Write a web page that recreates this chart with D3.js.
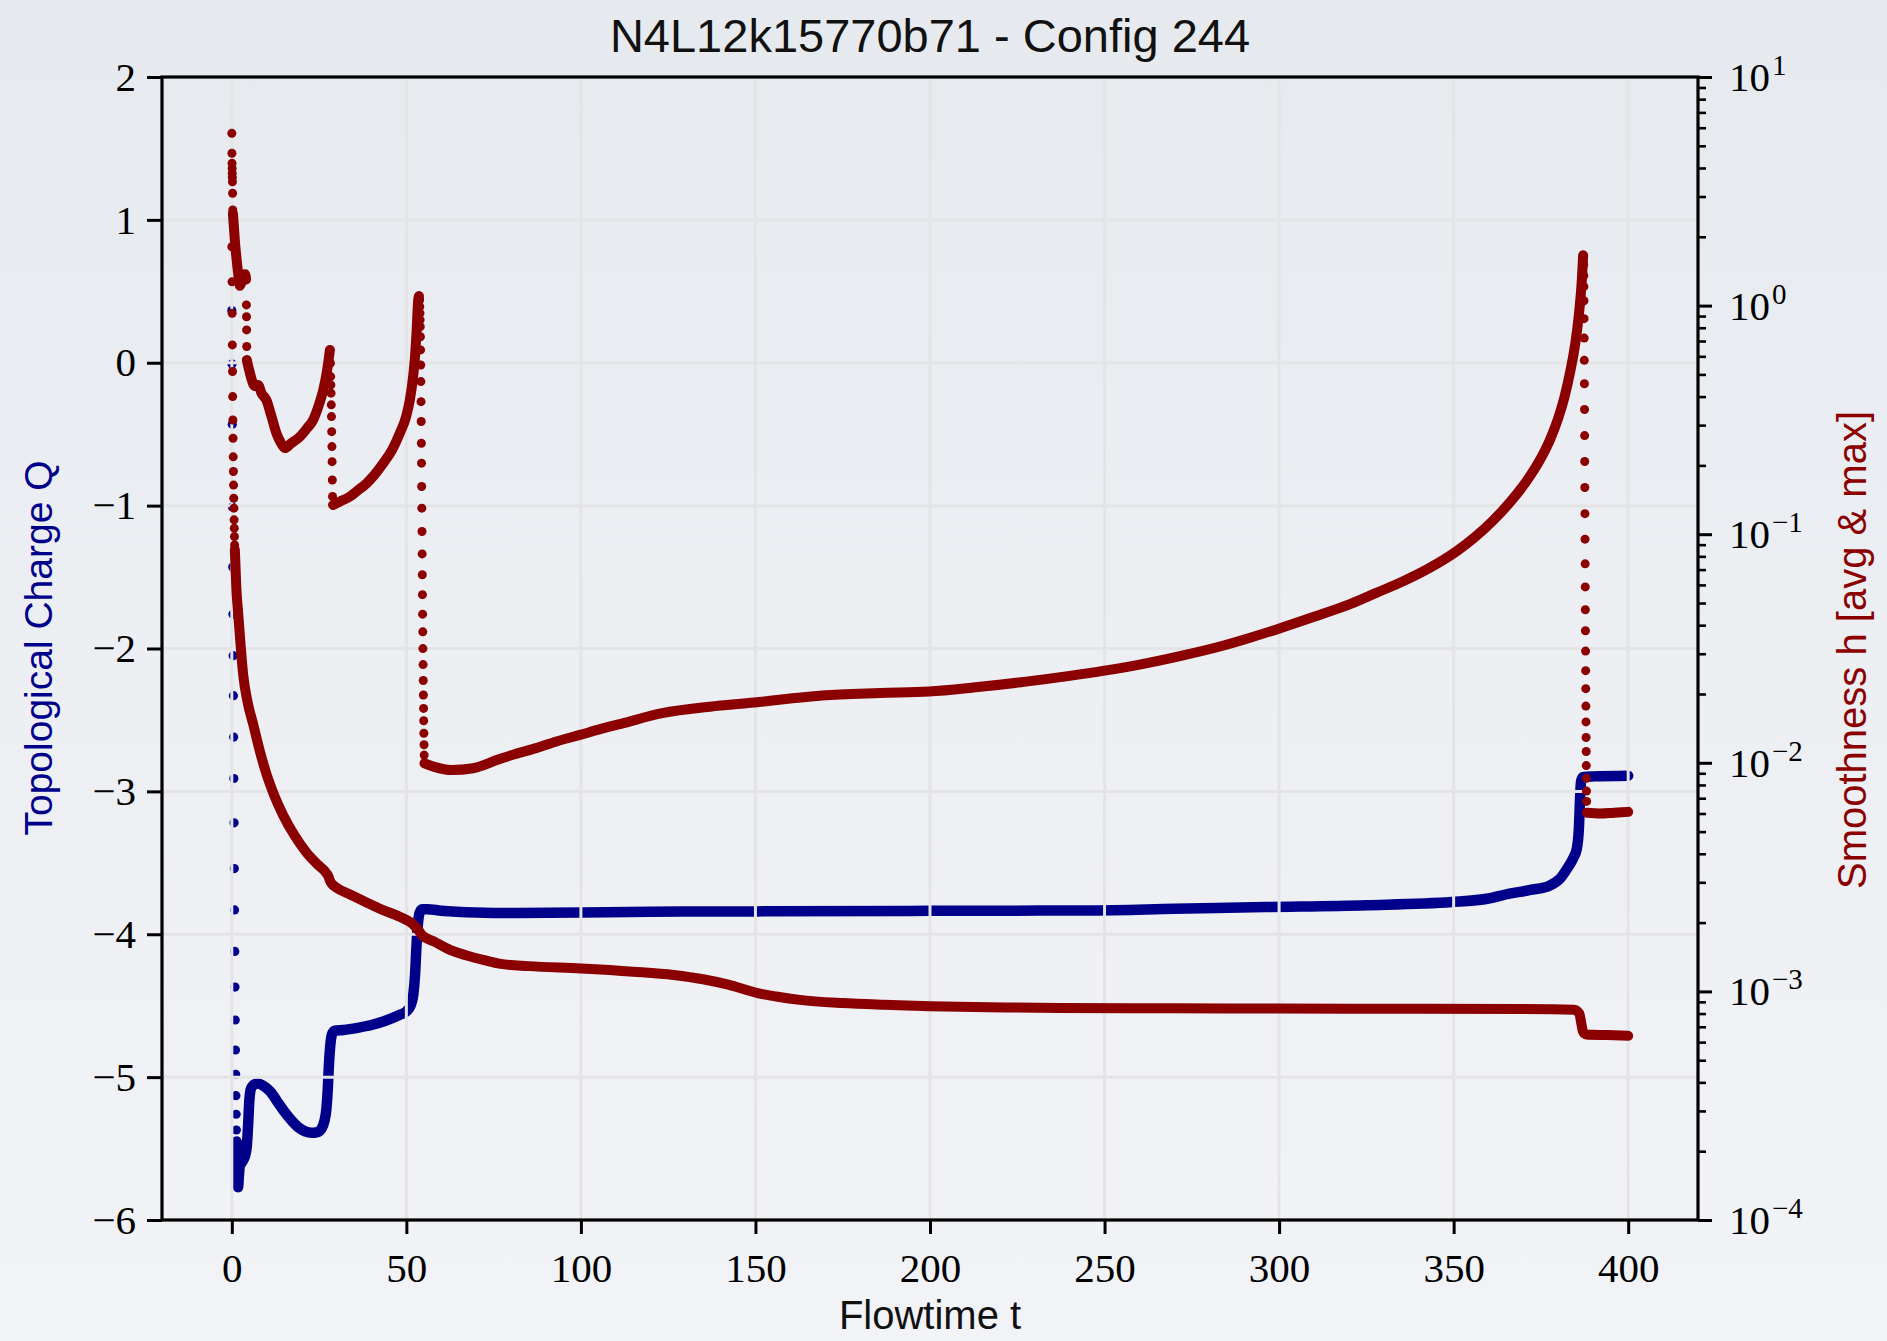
<!DOCTYPE html>
<html>
<head>
<meta charset="utf-8">
<script src="https://cdn.jsdelivr.net/npm/d3@7"></script>
<style>
html, body { margin: 0; padding: 0; }
body { width: 1887px; height: 1341px; overflow: hidden; background: #eceff3; }
</style>
</head>
<body>
<div id="chart"></div>
<script>
// ---- data ----
var xTicks = [0, 50, 100, 150, 200, 250, 300, 350, 400];
var qTicks = [-6, -5, -4, -3, -2, -1, 0, 1, 2];
var hTicks = [1e-4, 1e-3, 1e-2, 1e-1, 1e0, 1e1];
var hTickExp = ["\u22124", "\u22123", "\u22122", "\u22121", "0", "1"];

// topological charge: single visible markers near t = 0, then the dense run
var chargeDots = [[0,0.365],[0.065,-0.008],[0.13,-0.43],[0.195,-1.01],[0.26,-1.43],[0.325,-1.76],
  [0.39,-2.05],[0.455,-2.33],[0.52,-2.62],[0.585,-2.91],[0.65,-3.22],[0.715,-3.54],[0.78,-3.83],
  [0.845,-4.12],[0.91,-4.37],[0.975,-4.60],[1.04,-4.81],[1.105,-4.98],[1.17,-5.13],[1.235,-5.26],[1.3,-5.37]];
var chargeCurve = [[1.36,-5.45],[1.5,-5.62],[1.65,-5.74],[1.8,-5.77],[2.0,-5.70],[2.3,-5.62],[2.8,-5.60],
  [3.3,-5.58],[3.8,-5.55],[4.3,-5.48],[4.7,-5.32],[5.0,-5.17],[5.5,-5.08],[6.5,-5.05],[7.5,-5.045],
  [9,-5.06],[11,-5.1],[13,-5.17],[15,-5.24],[17,-5.30],[19,-5.35],[21,-5.38],[22.8,-5.39],[24.5,-5.385],
  [25.7,-5.36],[26.5,-5.31],[27.1,-5.22],[27.5,-5.08],[27.8,-4.92],[28.2,-4.78],[28.7,-4.70],[29.5,-4.675],
  [32,-4.67],[36,-4.655],[40,-4.635],[44,-4.605],[48,-4.565],[50,-4.54],[51.2,-4.5],[52,-4.42],[52.5,-4.28],
  [52.9,-4.08],[53.3,-3.93],[53.8,-3.85],[54.5,-3.825],[56,-3.825],[60,-3.835],[70,-3.848],[80,-3.852],
  [100,-3.848],[120,-3.842],[150,-3.84],[200,-3.836],[246,-3.833],[270,-3.822],[296,-3.81],[325,-3.797],
  [349.5,-3.775],[360,-3.75],[366,-3.716],[372,-3.69],[377.6,-3.658],[380.5,-3.61],[382.4,-3.545],
  [384.2,-3.47],[385.3,-3.40],[385.9,-3.25],[386.2,-3.06],[386.5,-2.93],[387,-2.90],[390,-2.895],[400,-2.89]];

// smoothness, average
var hAvgDots = [[0,1.81],[0.05,1.27],[0.1,0.925],[0.15,0.673],[0.2,0.515],[0.25,0.400],[0.3,0.316],
  [0.35,0.263],[0.4,0.218],[0.45,0.188],[0.5,0.164],[0.55,0.1436],[0.6,0.130],[0.65,0.1156],
  [0.7,0.1063],[0.75,0.0976],[0.8,0.0898]];
var hAvgCurve = [[0.86,0.0855],[1.0,0.076],[1.3,0.058],[1.8,0.0456],[2.5,0.033],[3.24,0.0244],[4.5,0.0185],
  [6.1,0.0148],[8,0.0113],[9.9,0.00895],[12,0.0073],[14.7,0.0059],[18,0.0048],[21.4,0.00405],[24.5,0.0036],
  [27.1,0.00329],[27.7,0.00318],[28.1,0.00305],[28.6,0.00296],[30,0.00284],[34,0.00265],[38.6,0.00245],
  [43,0.00228],[48.1,0.00212],[52,0.00196],[53.6,0.00184],[54.5,0.00176],[58,0.00165],[62.5,0.00152],
  [67,0.00144],[72.3,0.00137],[77,0.00132],[85,0.00129],[100,0.00126],[115,0.00122],[126.5,0.00118],
  [135,0.00113],[142.2,0.00107],[150.6,0.000983],[156,0.00095],[162.7,0.000918],[175,0.000889],
  [186.8,0.000874],[200,0.000862],[217,0.000853],[237,0.000845],[270,0.000843],[300,0.000841],
  [340,0.000839],[370,0.000837],[384.5,0.000832],[386,0.00080],[386.6,0.00072],[387.1,0.000665],
  [388,0.000648],[394,0.000644],[400,0.000639]];

// smoothness, maximum
var hMaxDots = [[0,5.67],[0.03,4.64],[0.06,4.19],[0.09,3.98],[0.12,3.79],[0.15,3.64],[0.18,3.48],[0.22,3.10],[0.27,2.62],
  [4.18,1.007],[4.21,0.894],[4.24,0.783],[4.27,0.662],
  [28.25,0.56],[28.31,0.489],[28.37,0.45],[28.43,0.414],[28.49,0.368],[28.55,0.327],[28.61,0.281],
  [28.67,0.2416],[28.73,0.2077],[28.79,0.1726],[28.85,0.1462],
  [53.8,1.059],[53.845,0.989],[53.89,0.926],[53.935,0.866],[53.98,0.809],[54.025,0.731],[54.07,0.640],
  [54.115,0.550],[54.16,0.465],[54.205,0.380],[54.25,0.311],[54.295,0.250],[54.34,0.2045],[54.385,0.1616],
  [54.43,0.130],[54.475,0.1028],[54.52,0.0820],[54.565,0.0665],[54.61,0.0544],[54.655,0.0447],
  [54.7,0.0374],[54.745,0.0316],[54.79,0.0269],[54.835,0.0229],[54.88,0.0198],[54.925,0.0173],
  [54.97,0.01528],[55.015,0.01347],[55.06,0.0120],[55.105,0.01081],
  [387.25,1.51],[387.28,1.35],[387.31,1.21],[387.34,1.05],[387.37,0.877],[387.4,0.721],[387.43,0.576],
  [387.46,0.455],[387.49,0.351],[387.52,0.270],[387.55,0.208],[387.58,0.160],[387.61,0.123],
  [387.64,0.0951],[387.67,0.0742],[387.7,0.0588],[387.73,0.0467],[387.76,0.0378],[387.79,0.0308],
  [387.82,0.0253],[387.85,0.0211],[387.88,0.0177],[387.91,0.0151],[387.94,0.0129],[387.97,0.0112],
  [388.0,0.00972],[388.03,0.00855],[388.06,0.00752],[388.09,0.00678]];
var hMaxCurves = [
  [[0.32,2.53],[0.6,2.2],[0.9,1.9],[1.2,1.69],[1.8,1.39],[2.3,1.22],[2.8,1.27],[3.3,1.34],[3.8,1.37],[4.1,1.3]],
  [[4.3,0.578],[5.0,0.52],[5.6,0.48],[6.1,0.455],[6.6,0.445],[7.5,0.45],[8.5,0.414],[9.9,0.386],[11.3,0.33],
   [12.8,0.276],[14,0.252],[15.2,0.238],[17,0.25],[19.5,0.267],[21.5,0.29],[23.3,0.316],[25,0.37],
   [26.2,0.428],[27.1,0.5],[27.6,0.56],[28.1,0.64]],
  [[29,0.1343],[31,0.139],[33.8,0.146],[36,0.155],[38.6,0.167],[41,0.183],[43.4,0.2045],[46,0.235],
   [48.1,0.276],[50,0.33],[51,0.387],[52,0.5],[52.4,0.578],[52.9,0.757],[53.4,1.06],[53.6,1.1]],
  [[55.2,0.00994],[58,0.0096],[62.9,0.0093],[69.1,0.00947],[76.1,0.0103],[81,0.0109],[87.2,0.01159],
   [93,0.0124],[99.7,0.01324],[106,0.0141],[112.2,0.01492],[123.3,0.01648],[137,0.0176],[149.7,0.01835],
   [160,0.0191],[169.1,0.0197],[185.8,0.0202],[199.7,0.0205],[213,0.0214],[227.5,0.02265],[240,0.0240],
   [250,0.0253],[260,0.0269],[271.6,0.0293],[282.5,0.0321],[291,0.0350],[299.9,0.0386],[310,0.0435],
   [320.3,0.0494],[328,0.0555],[335.7,0.0624],[343,0.071],[351,0.0845],[356,0.0968],[361.3,0.1148],
   [366.5,0.140],[371.5,0.176],[375,0.215],[377.7,0.261],[380,0.323],[381.7,0.395],[383.5,0.524],
   [384.8,0.676],[385.8,0.89],[386.4,1.11],[386.8,1.35],[387.1,1.66]],
  [[388.2,0.00604],[392,0.00600],[396,0.00605],[400,0.0061]]
];

// ---- layout ----
var W = 1887, H = 1341;
var plotL = 162, plotR = 1698, plotT = 77, plotB = 1220;
var blue = "#00008b", red = "#8b0000";
var serif = "'Liberation Serif', 'DejaVu Serif', serif";
var sans = "'Liberation Sans', Arial, sans-serif";

var svg = d3.select("#chart").append("svg")
    .attr("width", W)
    .attr("height", H);

var grad = svg.append("defs").append("linearGradient")
    .attr("id", "bg").attr("x1", 0).attr("y1", 0).attr("x2", 0).attr("y2", 1);
grad.append("stop").attr("offset", "0%").attr("stop-color", "#e6eaee");
grad.append("stop").attr("offset", "100%").attr("stop-color", "#f2f3f7");
svg.append("rect").attr("width", W).attr("height", H).attr("fill", "url(#bg)");

var x = d3.scaleLinear().domain([-20, 420]).range([plotL, plotR]);
var yQ = d3.scaleLinear().domain([-6, 2]).range([plotB, plotT]);
var yH = d3.scaleLog().domain([1e-4, 1e1]).range([plotB, plotT]);

function drawSeries(dots, runs, yScale, color, width, r) {
  var g = svg.append("g");
  var line = d3.line()
      .x(function(d) { return x(d[0]); })
      .y(function(d) { return yScale(d[1]); })
      .curve(d3.curveMonotoneX);
  g.selectAll("path")
   .data(runs)
   .enter()
   .append("path")
   .attr("d", line)
   .attr("fill", "none")
   .attr("stroke", color)
   .attr("stroke-width", width)
   .attr("stroke-linecap", "round")
   .attr("stroke-linejoin", "round");
  g.selectAll("circle")
   .data(dots)
   .enter()
   .append("circle")
   .attr("cx", function(d) { return x(d[0]); })
   .attr("cy", function(d) { return yScale(d[1]); })
   .attr("r", r)
   .attr("fill", color);
}

// charge first, the grid lies over it, smoothness on top
drawSeries(chargeDots, [chargeCurve], yQ, blue, 10.5, 4.6);

var grid = svg.append("g").attr("stroke", "#e4e4e6").attr("stroke-width", 3);
grid.selectAll(".gx")
   .data(xTicks)
   .enter()
   .append("line")
   .attr("x1", function(d) { return x(d); })
   .attr("x2", function(d) { return x(d); })
   .attr("y1", plotT)
   .attr("y2", plotB);
grid.selectAll(".gy")
   .data(qTicks)
   .enter()
   .append("line")
   .attr("x1", plotL)
   .attr("x2", plotR)
   .attr("y1", function(d) { return yQ(d); })
   .attr("y2", function(d) { return yQ(d); });

drawSeries(hAvgDots, [hAvgCurve], yH, red, 10, 4.5);
drawSeries(hMaxDots, hMaxCurves, yH, red, 10, 4.5);

// frame
svg.append("rect")
   .attr("x", plotL).attr("y", plotT)
   .attr("width", plotR - plotL).attr("height", plotB - plotT)
   .attr("fill", "none").attr("stroke", "black").attr("stroke-width", 3.2);

// axes
function styleAxis(g, fs) {
  g.select(".domain").remove();
  g.selectAll(".tick line").attr("stroke", "black").attr("stroke-width", 3);
  g.selectAll(".tick text").attr("font-family", serif).attr("font-size", fs).attr("fill", "black");
}

var xAxis = svg.append("g")
   .attr("transform", "translate(0," + plotB + ")")
   .call(d3.axisBottom(x).tickValues(xTicks).tickSize(14).tickPadding(19).tickSizeOuter(0));
styleAxis(xAxis, "41px");

var qAxis = svg.append("g")
   .attr("transform", "translate(" + plotL + ",0)")
   .call(d3.axisLeft(yQ).tickValues(qTicks).tickSize(15).tickPadding(11).tickSizeOuter(0)
         .tickFormat(function(d) { return d < 0 ? "\u2212" + (-d) : "" + d; }));
styleAxis(qAxis, "41px");

var minors = [];
for (var k = -4; k < 1; k++) {
  for (var j = 2; j <= 9; j++) minors.push(j * Math.pow(10, k));
}
var hMinor = svg.append("g")
   .attr("transform", "translate(" + plotR + ",0)")
   .call(d3.axisRight(yH).tickValues(minors).tickSize(8).tickFormat(function() { return ""; }).tickSizeOuter(0));
styleAxis(hMinor, "1px");
hMinor.selectAll(".tick line").attr("stroke-width", 2.6);

var hAxis = svg.append("g")
   .attr("transform", "translate(" + plotR + ",0)")
   .call(d3.axisRight(yH).tickValues(hTicks).tickSize(14).tickFormat(function() { return ""; }).tickSizeOuter(0));
styleAxis(hAxis, "1px");

var hLab = svg.append("g").selectAll("text")
   .data(hTicks)
   .enter()
   .append("text")
   .attr("x", 1729)
   .attr("y", function(d) { return yH(d) + 14; })
   .attr("font-family", serif)
   .attr("font-size", "41px")
   .attr("fill", "black");
hLab.append("tspan").text("10");
hLab.append("tspan")
   .attr("dy", -16)
   .attr("dx", 2)
   .attr("font-size", "29px")
   .text(function(d, i) { return hTickExp[i]; });

// labels
svg.append("text")
   .attr("x", 930).attr("y", 52)
   .attr("text-anchor", "middle")
   .attr("font-family", sans)
   .attr("font-size", "47px")
   .attr("fill", "#111")
   .text("N4L12k15770b71 - Config 244");

svg.append("text")
   .attr("x", 930).attr("y", 1329)
   .attr("text-anchor", "middle")
   .attr("font-family", sans)
   .attr("font-size", "40px")
   .attr("fill", "#111")
   .text("Flowtime t");

svg.append("text")
   .attr("transform", "translate(52,648) rotate(-90)")
   .attr("text-anchor", "middle")
   .attr("font-family", sans)
   .attr("font-size", "39px")
   .attr("fill", blue)
   .text("Topological Charge Q");

svg.append("text")
   .attr("transform", "translate(1866,650) rotate(-90)")
   .attr("text-anchor", "middle")
   .attr("font-family", sans)
   .attr("font-size", "40px")
   .attr("fill", red)
   .text("Smoothness h [avg & max]");
</script>
</body>
</html>
